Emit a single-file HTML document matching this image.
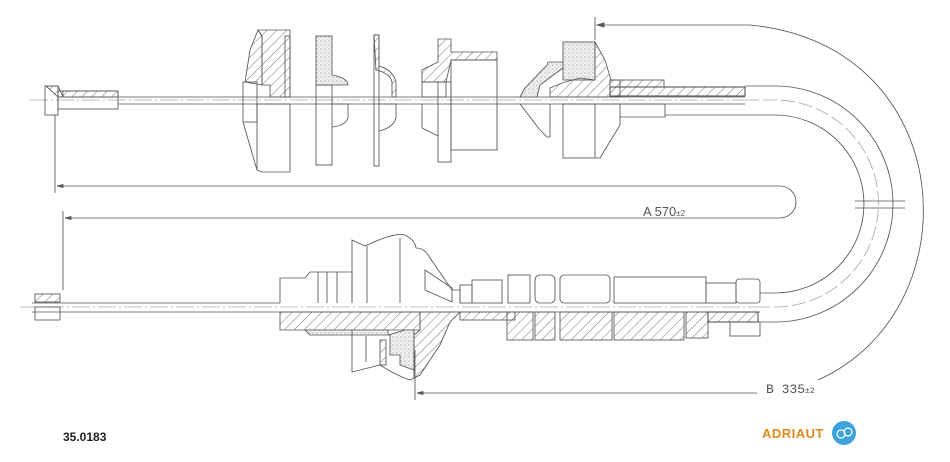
<!DOCTYPE html>
<html><head><meta charset="utf-8"><style>
html,body{margin:0;padding:0;background:#fff;width:950px;height:462px;overflow:hidden}
svg{display:block}
</style></head><body>
<svg width="950" height="462" viewBox="0 0 950 462" xmlns="http://www.w3.org/2000/svg" fill="none" stroke="#555" stroke-width="0.85">
<defs>
<pattern id="h" width="7" height="7" patternUnits="userSpaceOnUse" patternTransform="rotate(45)"><line x1="0" y1="0" x2="0" y2="7" stroke="#666" stroke-width="0.9"/></pattern>
<pattern id="s" width="4" height="4" patternUnits="userSpaceOnUse"><rect width="4" height="4" fill="#f0f0f0" stroke="none"/><circle cx="1" cy="1" r="0.6" fill="#999" stroke="none"/><circle cx="3" cy="3" r="0.5" fill="#bbb" stroke="none"/></pattern>
</defs>

<!-- ===== TOP ASSEMBLY ===== -->
<line x1="30" y1="100" x2="745" y2="100" stroke-dasharray="18,3,2,3" stroke="#aaa"/>
<line x1="58" y1="97" x2="745" y2="97"/>
<line x1="118" y1="104" x2="745" y2="104"/>
<rect x="45" y="86" width="13" height="29"/>
<polygon points="46,86 58,86 63,97 58,97" fill="url(#h)"/>
<rect x="58" y="91" width="60" height="18"/>
<rect x="63" y="91" width="55" height="6" fill="url(#h)"/>
<polygon points="258,30 290,30 290,97 270,97 270,85 262,85 262,36" fill="url(#h)"/>
<polygon points="258,30 262,36 262,85 245,82 250,50" fill="url(#h)"/>
<rect x="285" y="36" width="5" height="61"/>
<rect x="243" y="82" width="14" height="40"/>
<path d="M243,122 L257,170 L262,172 L290,172 L290,104 L257,104 L257,170"/>
<rect x="316" y="36" width="16" height="49" fill="url(#s)"/>
<path d="M332,75 Q348,78 348,85 L316,85" fill="url(#s)"/>
<rect x="316" y="85" width="16" height="80"/>
<path d="M332,104 L348,104 L348,118 Q345,126 332,127"/>
<rect x="374" y="35" width="5" height="131"/>
<path d="M374,35 L379,35 L379,66 Q393,70 396,82 L396,97 L392,97 L392,82 Q390,73 376,70 Z" fill="url(#h)"/>
<path d="M379,104 L396,104 L396,118 Q393,128 379,131"/>
<polygon points="438,39 451,39 451,52 497,52 497,60 451,60 446,82 422,82 422,70 438,62" fill="url(#h)"/>
<rect x="422" y="82" width="24" height="15"/>
<rect x="438" y="82" width="13" height="80"/>
<path d="M422,104 L422,128 L438,136"/>
<rect x="451" y="60" width="46" height="90"/>
<polygon points="520,97 525,88 547,65 548,62 563,62 563,68 552,76 540,85 537,97" fill="url(#s)"/>
<rect x="563" y="42" width="32" height="38" fill="url(#s)"/>
<polygon points="595,42 605,60 611,80 620,80 620,97 550,97 550,88 562,83 580,78 595,80" fill="url(#h)"/>
<rect x="610" y="80" width="54" height="7" fill="url(#h)"/>
<rect x="610" y="87" width="135" height="9" fill="url(#h)" stroke-width="1.1"/>
<path d="M520,104 L540,130 L547,137 L550,137 L550,104"/>
<rect x="563" y="104" width="32" height="54"/>
<path d="M595,104 L620,104 L620,125 L600,158 L595,158"/>
<path d="M620,104 L665,104 L665,117 L620,117"/>
<path d="M745,86 L775,86 A118,118 0 0 1 775,322 L760,322"/>
<path d="M665,115 L775,115 A89,89 0 0 1 775,293 L760,293"/>
<path d="M745,100 L775,100 A103,103 0 0 1 775,307 L760,307" stroke="#aaa" stroke-dasharray="14,4"/>
<line x1="855" y1="201" x2="905" y2="201"/><line x1="855" y1="208" x2="905" y2="208"/>
<line x1="595" y1="17" x2="595" y2="40"/>
<path d="M597,25 L750,25 C960,45 975,310 818,380"/>
<polygon points="597,25 604,23 604,27" fill="#555"/>
<line x1="55" y1="115" x2="55" y2="193"/>
<line x1="63" y1="211" x2="63" y2="290"/>
<path d="M57,186 L780,186 A16,16 0 0 1 780,218 L65,218"/>
<polygon points="57,186 63,184.5 63,187.5" fill="#555"/>
<polygon points="65,218 71,216.5 71,219.5" fill="#555"/>
<text x="643" y="216" font-family="Liberation Sans, sans-serif" font-size="13" fill="#555" stroke="none">A  570<tspan font-size="8">±2</tspan></text>

<!-- ===== BOTTOM ASSEMBLY ===== -->
<line x1="20" y1="307" x2="760" y2="307" stroke-dasharray="18,3,2,3" stroke="#aaa"/>
<line x1="32" y1="303" x2="280" y2="303"/>
<line x1="32" y1="312" x2="760" y2="312"/>
<rect x="35" y="294" width="25" height="8" fill="url(#h)"/>
<rect x="35" y="307" width="25" height="13"/>
<path d="M280,303 L280,278 L305,278 L310,272 L352,272 L352,303"/>
<line x1="318" y1="272" x2="318" y2="303"/><line x1="327" y1="272" x2="327" y2="303"/><line x1="337" y1="272" x2="337" y2="303"/>
<path d="M352,303 L352,240 L365,246 Q395,232 405,235 Q415,240 416,248 Q425,248 430,258 L452,290 L460,290 L460,303"/>
<line x1="367" y1="246" x2="367" y2="303"/><line x1="400" y1="238" x2="400" y2="303"/>
<polygon points="425,270 452,288 452,302 425,290"/>
<polygon points="280,312 420,312 420,330 280,330" fill="url(#h)"/>
<polygon points="420,312 460,312 450,322 440,345 420,375 414,378 414,335 420,330" fill="url(#h)"/>
<polygon points="305,330 388,330 388,335 405,330 414,330 414,370 400,365 400,355 390,355 390,335 310,335" fill="url(#s)"/>
<rect x="380" y="340" width="6" height="25" fill="url(#h)"/>
<path d="M352,330 L352,372 L380,365 Q395,375 410,380 L414,378"/>
<line x1="366" y1="336" x2="366" y2="362"/>
<rect x="460" y="285" width="12" height="18"/>
<rect x="472" y="280" width="30" height="23"/>
<rect x="508" y="275" width="22" height="28"/>
<rect x="535" y="275" width="20" height="28" rx="5"/>
<rect x="560" y="275" width="50" height="28" rx="4"/>
<rect x="614" y="277" width="92" height="26"/>
<rect x="706" y="283" width="30" height="20"/>
<rect x="736" y="279" width="24" height="24" rx="3"/>
<rect x="460" y="312" width="55" height="8" fill="url(#h)"/>
<rect x="507" y="312" width="26" height="28" fill="url(#h)"/>
<rect x="535" y="312" width="20" height="28" fill="url(#h)"/>
<rect x="560" y="312" width="52" height="28" fill="url(#h)"/>
<rect x="614" y="312" width="70" height="28" fill="url(#h)"/>
<rect x="686" y="312" width="22" height="26" fill="url(#h)"/>
<rect x="708" y="312" width="50" height="10" fill="url(#h)" stroke-width="1.1"/>
<rect x="730" y="322" width="30" height="14"/>
<line x1="415" y1="350" x2="415" y2="400"/>
<line x1="417" y1="393" x2="757" y2="393"/>
<polygon points="417,393 423,391.5 423,394.5" fill="#555"/>
<text x="766" y="393" font-family="Liberation Mono, monospace" font-size="13" fill="#555" stroke="none">B 335<tspan font-size="8">±2</tspan></text>

<text x="63" y="441" font-family="Liberation Sans, sans-serif" font-size="12" font-weight="bold" fill="#222" stroke="none">35.0183</text>
<text x="762" y="438" font-family="Liberation Sans, sans-serif" font-size="13" font-weight="bold" fill="#e08a1e" stroke="none" letter-spacing="0.5">ADRIAUT</text>
<circle cx="844" cy="433" r="12" fill="#3ea3dc" stroke="none"/>
<circle cx="841" cy="434" r="4" stroke="#fff" stroke-width="1.2"/>
<circle cx="848" cy="432" r="4" stroke="#fff" stroke-width="1.2"/>
</svg>
</body></html>
